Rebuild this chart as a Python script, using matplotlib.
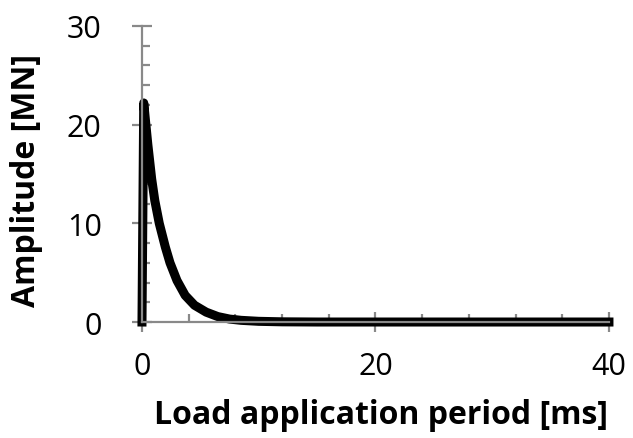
import matplotlib.pyplot as plt
from matplotlib.ticker import MultipleLocator

# Load pulse: time [ms] vs amplitude [MN]
time_ms = [0.0, 0.15, 0.3, 0.5, 0.83, 1.1, 1.48, 2.0, 2.4, 3.0, 3.7, 4.5, 5.5,
           6.5, 7.5, 8.5, 10.0, 12.0, 15.0, 20.0, 30.0, 40.0]
amplitude = [0.0, 22.2, 20.4, 18.0, 14.5, 12.3, 10.0, 7.6, 6.0, 4.2, 2.7, 1.7, 1.0,
             0.55, 0.3, 0.17, 0.07, 0.02, 0.0, 0.0, 0.0, 0.0]

x_ticks = [0, 20, 40]
y_ticks = [0, 10, 20, 30]

plt.rcParams['font.family'] = ['Open Sans', 'DejaVu Sans']

fig = plt.figure(figsize=(6.33, 4.39), dpi=100)
ax = fig.add_axes([0.2243, 0.2642, 0.7377, 0.6743])

ax.plot(time_ms, amplitude, color='black', linewidth=6.5, solid_joinstyle='round', clip_on=False)

ax.set_xlim(0, 40)
ax.set_ylim(0, 30)
ax.set_xticks(x_ticks)
ax.set_yticks(y_ticks)
ax.xaxis.set_minor_locator(MultipleLocator(4))
ax.yaxis.set_minor_locator(MultipleLocator(2))

grey = '#898989'
for side in ['top', 'right']:
    ax.spines[side].set_visible(False)
for side in ['left', 'bottom']:
    ax.spines[side].set_color(grey)
    ax.spines[side].set_linewidth(1.6)

ax.tick_params(which='major', direction='inout', length=14, width=1.6, color=grey,
               labelsize=22, labelcolor='black')
ax.tick_params(axis='x', which='major', pad=14)
ax.tick_params(axis='y', which='major', pad=22)
ax.tick_params(which='minor', direction='in', length=6, width=1.6, color=grey)

ax.set_xlabel('Load application period [ms]', fontsize=23, fontweight='bold')
ax.xaxis.set_label_coords(0.511, -0.255)
ax.set_ylabel('Amplitude [MN]', fontsize=23, fontweight='bold')
ax.yaxis.set_label_coords(-0.212, 0.48)

fig.savefig('out.png', dpi=100)
